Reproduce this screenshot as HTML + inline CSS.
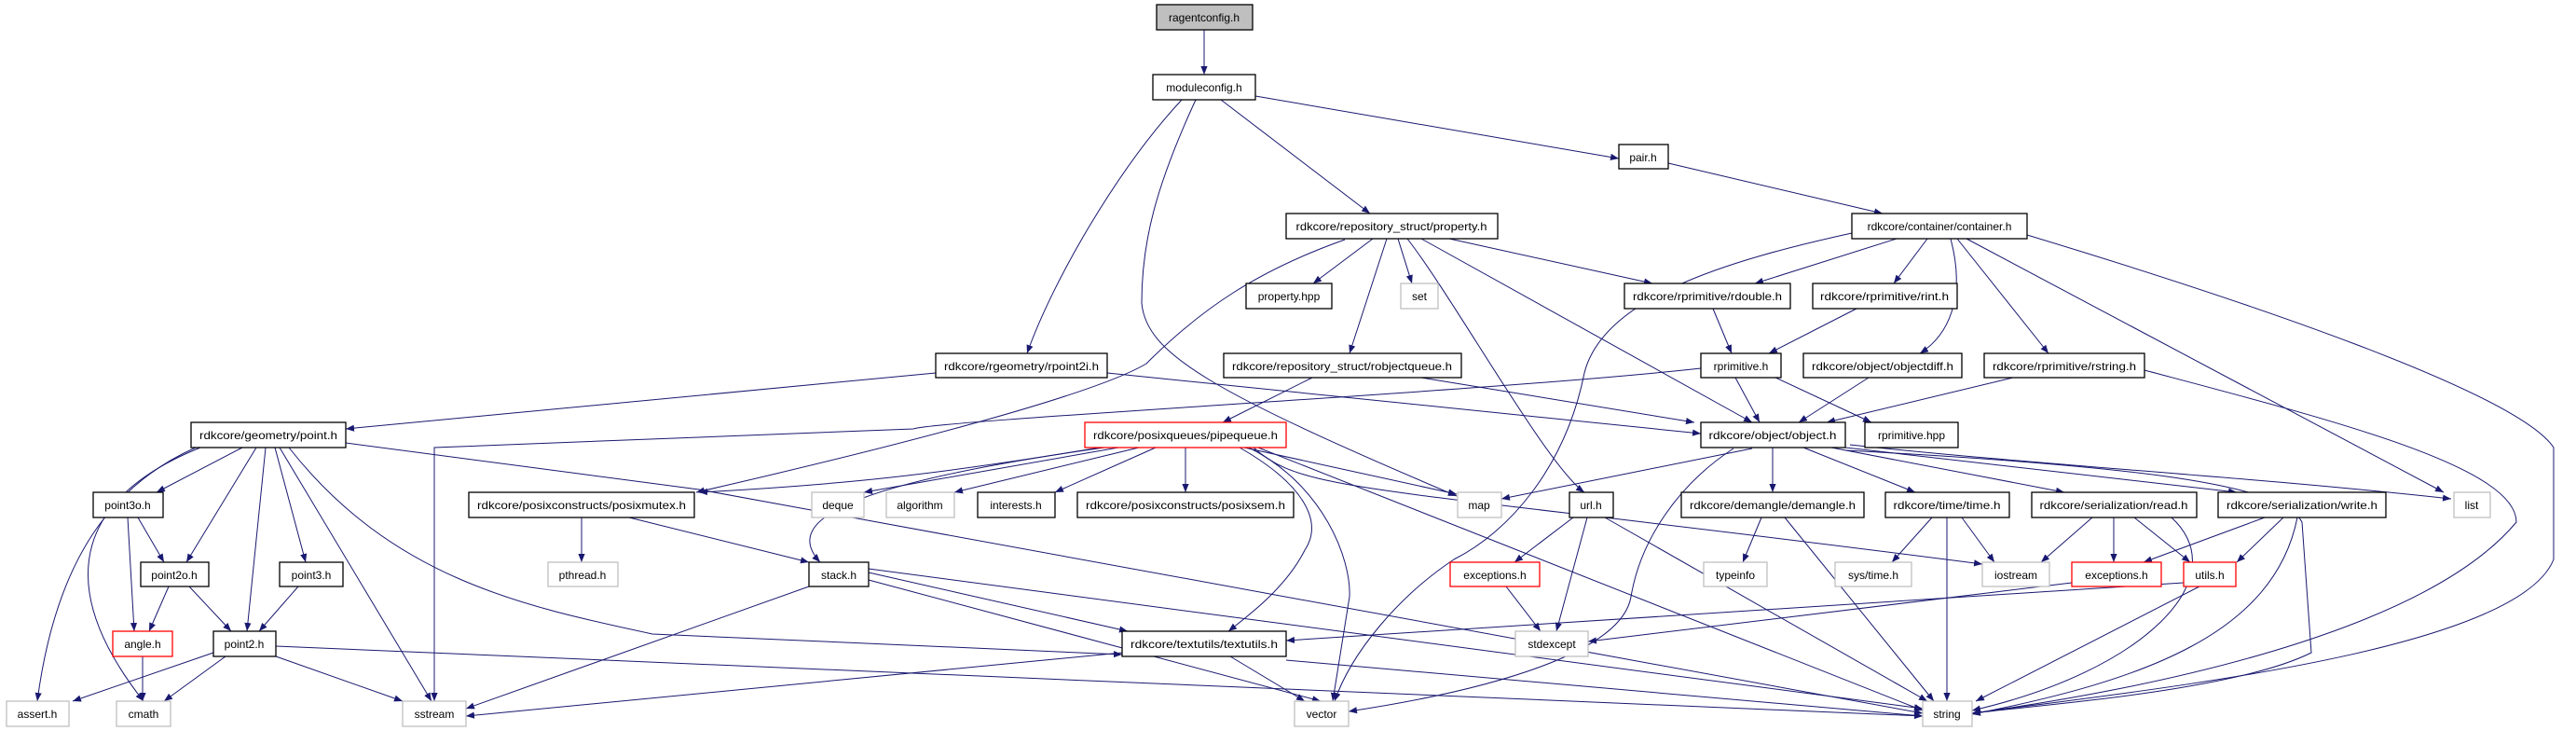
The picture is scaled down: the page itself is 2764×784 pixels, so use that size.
<!DOCTYPE html>
<html><head><meta charset="utf-8"><style>
html,body{margin:0;padding:0;background:#fff;width:2764px;height:784px;overflow:hidden}
svg text{font-family:"Liberation Sans",sans-serif;font-size:12px;text-anchor:middle}
.b{fill:#fff;stroke:#000;stroke-width:1.3}
.g{fill:#fff;stroke:#bfbfbf;stroke-width:1.3}
.r{fill:#fff;stroke:#f00;stroke-width:1.3}
.e{stroke:#191970;stroke-width:1;fill:none;marker-end:url(#a)}
</style></head><body>
<svg width="2764" height="784" xmlns="http://www.w3.org/2000/svg">
<defs><marker id="a" viewBox="0 0 10 10" refX="10" refY="5" markerWidth="9" markerHeight="9" orient="auto" markerUnits="userSpaceOnUse"><path d="M0,1 L10,5 L0,9 z" fill="#191970"/></marker></defs>
<g>
<path class="e" d="M1292,32 L1292,80"/>
<path class="e" d="M1268,107 C1200,180 1130,300 1102,379"/>
<path class="e" d="M1283,107 C1240,200 1225,260 1225,325 C1230,380 1300,420 1563,532"/>
<path class="e" d="M1310,107 L1470,229"/>
<path class="e" d="M1347,103 L1737,170"/>
<path class="e" d="M1790,175 L2020,229"/>
<path class="e" d="M1443,257 C1350,290 1290,330 1230,390 C1180,420 1000,470 747,528"/>
<path class="e" d="M1473,256 L1409,304"/>
<path class="e" d="M1500,256 L1515,304"/>
<path class="e" d="M1488,256 L1448,379"/>
<path class="e" d="M1510,256 C1560,320 1660,500 1700,528"/>
<path class="e" d="M1525,256 L1880,453"/>
<path class="e" d="M1555,256 L1773,304"/>
<path class="e" d="M2035,256 L1883,304"/>
<path class="e" d="M2068,256 L2032,304"/>
<path class="e" d="M2093,256 C2110,320 2090,360 2060,379"/>
<path class="e" d="M2100,256 L2198,379"/>
<path class="e" d="M2110,256 L2622,528"/>
<path class="e" d="M2175,252 C2400,320 2700,420 2740,480 L2740,600 C2700,700 2300,740 2116,765"/>
<path class="e" d="M1987,250 C1850,280 1720,320 1700,400 C1680,500 1620,570 1560,600 C1500,640 1450,700 1432,752"/>
<path class="e" d="M1838,331 L1858,379"/>
<path class="e" d="M1992,331 L1898,379"/>
<path class="e" d="M1825,395 C1600,420 1010,450 980,460 L466,480 L466,752"/>
<path class="e" d="M1862,405 L1888,453"/>
<path class="e" d="M1905,405 L2008,453"/>
<path class="e" d="M2005,405 L1930,453"/>
<path class="e" d="M2160,405 L1960,453"/>
<path class="e" d="M2301,397 C2500,450 2700,500 2700,560 C2600,680 2300,740 2116,765"/>
<path class="e" d="M1525,405 L1818,453"/>
<path class="e" d="M1408,405 L1312,453"/>
<path class="e" d="M1004,400 L371,460"/>
<path class="e" d="M1188,400 L1825,465"/>
<path class="e" d="M210,480 C120,520 60,600 40,752"/>
<path class="e" d="M215,480 C90,530 50,620 154,752"/>
<path class="e" d="M260,480 L168,528"/>
<path class="e" d="M275,480 L200,603"/>
<path class="e" d="M285,480 L265,677"/>
<path class="e" d="M295,480 L328,603"/>
<path class="e" d="M300,480 L463,752"/>
<path class="e" d="M310,480 C420,620 560,650 700,680 L1204,702"/>
<path class="e" d="M371,475 L750,525 L2063,765"/>
<path class="e" d="M137,555 L144,677"/>
<path class="e" d="M148,555 L176,603"/>
<path class="e" d="M181,629 L160,677"/>
<path class="e" d="M203,629 L248,677"/>
<path class="e" d="M320,629 L278,677"/>
<path class="e" d="M229,700 L78,752"/>
<path class="e" d="M242,704 L176,752"/>
<path class="e" d="M296,704 L432,752"/>
<path class="e" d="M296,693 L2063,768"/>
<path class="e" d="M153,704 L153,752"/>
<path class="e" d="M1180,480 C1000,510 900,520 750,528"/>
<path class="e" d="M1200,480 L927,528"/>
<path class="e" d="M1222,480 L1024,528"/>
<path class="e" d="M1240,480 L1132,528"/>
<path class="e" d="M1272,480 L1272,528"/>
<path class="e" d="M1185,480 C900,520 840,560 880,603"/>
<path class="e" d="M1335,480 L1563,530"/>
<path class="e" d="M1340,480 C1420,520 1450,600 1448,640 L1430,752"/>
<path class="e" d="M1330,480 C1400,520 1420,560 1400,590 C1380,630 1340,660 1318,677"/>
<path class="e" d="M1345,480 C1400,530 1470,520 2127,605"/>
<path class="e" d="M1350,480 L2063,762"/>
<path class="e" d="M624,555 L624,603"/>
<path class="e" d="M675,555 L868,603"/>
<path class="e" d="M868,629 L500,760"/>
<path class="e" d="M932,614 L1210,677"/>
<path class="e" d="M932,622 L1417,752"/>
<path class="e" d="M932,610 L2063,760"/>
<path class="e" d="M1204,700 L500,768"/>
<path class="e" d="M1320,704 L1400,752"/>
<path class="e" d="M1380,708 L2063,768"/>
<path class="e" d="M1880,481 L1611,535"/>
<path class="e" d="M1860,481 C1800,520 1760,580 1750,640 C1740,700 1600,740 1447,763"/>
<path class="e" d="M1902,480 L1902,528"/>
<path class="e" d="M1935,480 L2055,528"/>
<path class="e" d="M1965,480 L2215,528"/>
<path class="e" d="M1980,480 L2400,528"/>
<path class="e" d="M1985,477 C2200,500 2400,510 2630,535"/>
<path class="e" d="M1980,483 C2300,500 2450,520 2470,560 L2480,700 C2400,740 2200,755 2116,765"/>
<path class="e" d="M1890,555 L1870,603"/>
<path class="e" d="M1915,555 L2075,752"/>
<path class="e" d="M2073,555 L2030,603"/>
<path class="e" d="M2105,555 L2140,603"/>
<path class="e" d="M2089,555 L2089,752"/>
<path class="e" d="M1688,555 L1625,603"/>
<path class="e" d="M1703,555 L1670,677"/>
<path class="e" d="M1722,555 L2068,752"/>
<path class="e" d="M1616,629 L1653,677"/>
<path class="e" d="M2245,555 L2190,603"/>
<path class="e" d="M2268,555 L2268,603"/>
<path class="e" d="M2290,555 L2350,603"/>
<path class="e" d="M2330,555 C2400,620 2300,720 2116,762"/>
<path class="e" d="M2430,555 L2300,603"/>
<path class="e" d="M2450,555 L2400,603"/>
<path class="e" d="M2465,555 C2440,680 2300,730 2116,766"/>
<path class="e" d="M2223,625 L1704,688"/>
<path class="e" d="M2343,625 L1380,687"/>
<path class="e" d="M2360,629 L2120,752"/>
</g>
<g>
<rect x="1241" y="5" width="103" height="27" fill="#bfbfbf" stroke="#000" stroke-width="1.3"/><text x="1292" y="23">ragentconfig.h</text>
<rect class="b" x="1237" y="80" width="110" height="27"/><text x="1292" y="98">moduleconfig.h</text>
<rect class="b" x="1737" y="155" width="53" height="26"/><text x="1763" y="173">pair.h</text>
<rect class="b" x="1380" y="229" width="227" height="27"/><text x="1493" y="247" textLength="205" lengthAdjust="spacingAndGlyphs">rdkcore/repository_struct/property.h</text>
<rect class="b" x="1987" y="229" width="188" height="27"/><text x="2081" y="247">rdkcore/container/container.h</text>
<rect class="b" x="1337" y="304" width="92" height="27"/><text x="1383" y="322">property.hpp</text>
<rect class="g" x="1503" y="304" width="40" height="27"/><text x="1523" y="322" fill="#000">set</text>
<rect class="b" x="1743" y="304" width="178" height="27"/><text x="1832" y="322" textLength="160" lengthAdjust="spacingAndGlyphs">rdkcore/rprimitive/rdouble.h</text>
<rect class="b" x="1945" y="304" width="155" height="27"/><text x="2022" y="322" textLength="138" lengthAdjust="spacingAndGlyphs">rdkcore/rprimitive/rint.h</text>
<rect class="b" x="1004" y="379" width="184" height="26"/><text x="1096" y="397" textLength="166" lengthAdjust="spacingAndGlyphs">rdkcore/rgeometry/rpoint2i.h</text>
<rect class="b" x="1313" y="379" width="255" height="26"/><text x="1440" y="397" textLength="236" lengthAdjust="spacingAndGlyphs">rdkcore/repository_struct/robjectqueue.h</text>
<rect class="b" x="1825" y="379" width="86" height="26"/><text x="1868" y="397">rprimitive.h</text>
<rect class="b" x="1935" y="379" width="170" height="26"/><text x="2020" y="397" textLength="152" lengthAdjust="spacingAndGlyphs">rdkcore/object/objectdiff.h</text>
<rect class="b" x="2129" y="379" width="172" height="26"/><text x="2215" y="397" textLength="154" lengthAdjust="spacingAndGlyphs">rdkcore/rprimitive/rstring.h</text>
<rect class="b" x="205" y="453" width="166" height="27"/><text x="288" y="471" textLength="148" lengthAdjust="spacingAndGlyphs">rdkcore/geometry/point.h</text>
<rect class="r" x="1164" y="453" width="216" height="27"/><text x="1272" y="471" textLength="198" lengthAdjust="spacingAndGlyphs">rdkcore/posixqueues/pipequeue.h</text>
<rect class="b" x="1825" y="453" width="155" height="27"/><text x="1902" y="471" textLength="137" lengthAdjust="spacingAndGlyphs">rdkcore/object/object.h</text>
<rect class="b" x="2001" y="453" width="100" height="27"/><text x="2051" y="471">rprimitive.hpp</text>
<rect class="b" x="100" y="528" width="75" height="27"/><text x="137" y="546">point3o.h</text>
<rect class="b" x="503" y="528" width="242" height="27"/><text x="624" y="546" textLength="224" lengthAdjust="spacingAndGlyphs">rdkcore/posixconstructs/posixmutex.h</text>
<rect class="g" x="871" y="528" width="56" height="27"/><text x="899" y="546">deque</text>
<rect class="g" x="951" y="528" width="73" height="27"/><text x="987" y="546">algorithm</text>
<rect class="b" x="1049" y="528" width="83" height="27"/><text x="1090" y="546">interests.h</text>
<rect class="b" x="1156" y="528" width="232" height="27"/><text x="1272" y="546" textLength="214" lengthAdjust="spacingAndGlyphs">rdkcore/posixconstructs/posixsem.h</text>
<rect class="g" x="1564" y="528" width="47" height="27"/><text x="1587" y="546">map</text>
<rect class="b" x="1684" y="528" width="47" height="27"/><text x="1707" y="546">url.h</text>
<rect class="b" x="1804" y="528" width="196" height="27"/><text x="1902" y="546" textLength="178" lengthAdjust="spacingAndGlyphs">rdkcore/demangle/demangle.h</text>
<rect class="b" x="2023" y="528" width="133" height="27"/><text x="2089" y="546" textLength="115" lengthAdjust="spacingAndGlyphs">rdkcore/time/time.h</text>
<rect class="b" x="2180" y="528" width="177" height="27"/><text x="2268" y="546" textLength="159" lengthAdjust="spacingAndGlyphs">rdkcore/serialization/read.h</text>
<rect class="b" x="2380" y="528" width="180" height="27"/><text x="2470" y="546" textLength="162" lengthAdjust="spacingAndGlyphs">rdkcore/serialization/write.h</text>
<rect class="g" x="2633" y="528" width="39" height="27"/><text x="2652" y="546">list</text>
<rect class="b" x="151" y="603" width="73" height="26"/><text x="187" y="621">point2o.h</text>
<rect class="b" x="300" y="603" width="68" height="26"/><text x="334" y="621">point3.h</text>
<rect class="g" x="588" y="603" width="75" height="26"/><text x="625" y="621">pthread.h</text>
<rect class="b" x="868" y="603" width="64" height="26"/><text x="900" y="621">stack.h</text>
<rect class="r" x="1556" y="603" width="96" height="26"/><text x="1604" y="621">exceptions.h</text>
<rect class="g" x="1828" y="603" width="68" height="26"/><text x="1862" y="621">typeinfo</text>
<rect class="g" x="1969" y="603" width="82" height="26"/><text x="2010" y="621">sys/time.h</text>
<rect class="g" x="2127" y="603" width="72" height="26"/><text x="2163" y="621">iostream</text>
<rect class="r" x="2223" y="603" width="96" height="26"/><text x="2271" y="621">exceptions.h</text>
<rect class="r" x="2343" y="603" width="56" height="26"/><text x="2371" y="621">utils.h</text>
<rect class="r" x="121" y="677" width="64" height="27"/><text x="153" y="695">angle.h</text>
<rect class="b" x="229" y="677" width="67" height="27"/><text x="262" y="695">point2.h</text>
<rect class="b" x="1204" y="677" width="176" height="27"/><text x="1292" y="695" textLength="158" lengthAdjust="spacingAndGlyphs">rdkcore/textutils/textutils.h</text>
<rect class="g" x="1626" y="677" width="78" height="27"/><text x="1665" y="695">stdexcept</text>
<rect class="g" x="7" y="752" width="67" height="27"/><text x="40" y="770">assert.h</text>
<rect class="g" x="125" y="752" width="58" height="27"/><text x="154" y="770">cmath</text>
<rect class="g" x="432" y="752" width="68" height="27"/><text x="466" y="770">sstream</text>
<rect class="g" x="1389" y="752" width="58" height="27"/><text x="1418" y="770">vector</text>
<rect class="g" x="2063" y="752" width="53" height="27"/><text x="2089" y="770">string</text>
</g>
</svg>
</body></html>
